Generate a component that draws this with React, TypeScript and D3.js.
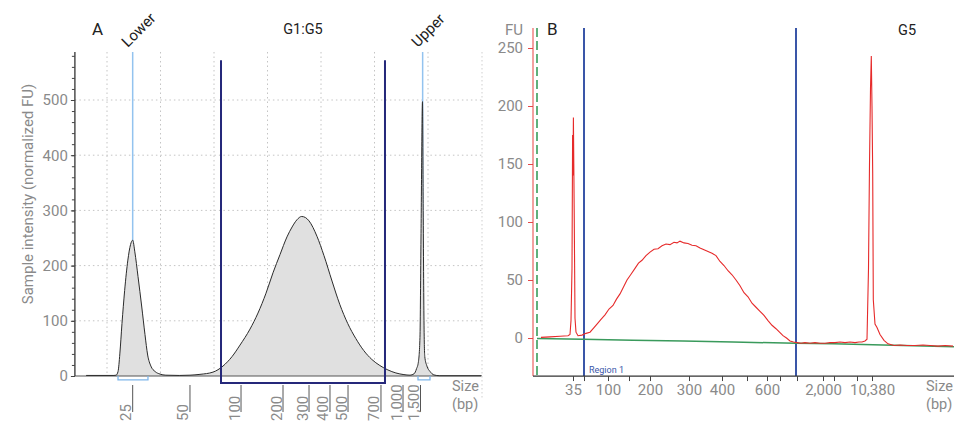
import * as d3 from "d3";
import { useEffect, useRef } from "react";

// ---- panel A (TapeStation, normalized FU) ----
// ladder sizes and their migration times
const ladderA = [25, 50, 100, 200, 300, 400, 500, 700, 1000, 1500];
const ladderATime = [14.8, 25.51, 35.05, 42.9, 47.76, 51.68, 55.05, 61.21, 65.33, 68.6];
const gridTimeA = [10, 20, 30, 40, 50, 60, 70];
const yTicksA = [0, 100, 200, 300, 400, 500];

const traceATime = [
  6.1, 11.3, 11.7, 12.06, 12.4, 12.8, 13.3, 13.9, 14.4, 14.8, 15.2, 15.8, 16.5, 17.1, 17.6, 18.2, 19.0, 19.9, 21.0,
  23.5, 25.51, 27.38, 29.81, 31.68, 33.36, 34.86, 36.73, 38.22, 39.72, 41.03, 42.34, 43.64, 44.6, 45.5, 46.39,
  47.1, 47.76, 49.25, 50.56, 52.06, 53.5, 55.0, 56.5, 58.0, 59.5, 61.0, 62.5, 64.0, 65.5, 66.64, 67.4, 67.85, 68.2,
  68.5, 68.69, 68.97, 69.1, 69.25, 69.4, 69.8, 70.4, 71.1, 72.2, 80
];
const traceAValue = [
  1, 1, 1.5, 8, 40, 95, 155, 210, 238, 246, 225, 180, 125, 75, 38, 18, 8, 3.5, 1.5,
  1, 1.5, 3, 7, 18, 35, 56, 85, 114, 150, 187, 220, 252, 270, 283, 289,
  287, 281, 253, 218, 172, 130, 95, 68, 46, 30, 19, 11, 5.5, 2.5, 1.5, 4, 13, 25,
  70, 250, 497, 300, 100, 35, 18, 8, 2, 0.5, 0.5
];

const markerALabels = ["Lower", "Upper"];
const markerATime = [14.8, 69.0];
const markerABracket = [[12.06, 17.66], [68.13, 70.37]];
const regionALabel = "G1:G5";
const regionATime = [31.31, 61.96];

// ---- panel B (Bioanalyzer, FU) ----
const ladderB = [35, 50, 100, 150, 200, 300, 400, 500, 600, 700, 1000, 2000, 3000, 7000, 10380];
const ladderBTime = [48.0, 50.2, 55.0, 59.2, 63.4, 71.2, 77.8, 82.8, 86.8, 89.4, 92.8, 98.0, 100.2, 104.8, 107.8];
const labeledB = [35, 100, 200, 300, 400, 600, 2000, 10380];
const yTicksB = [0, 50, 100, 150, 200, 250];
const regionBTime = [50.2, 92.6];
const startBTime = 40.8;

const traceBTime = [
  41.6, 43.4, 45.4, 47.0, 47.4, 47.6, 47.8, 47.92, 48.0, 48.08, 48.16, 48.24, 48.4, 48.6, 49.0, 49.8, 50.6,
  51.4, 52.2, 52.8, 53.6, 54.4, 55.2, 56.0, 56.7, 57.4, 58.1, 58.8, 59.6, 60.4, 61.1, 61.8, 62.6, 63.4,
  64.2, 65.0, 65.8, 66.6, 67.4, 68.2, 68.8, 69.4, 70.2, 71.0, 71.8, 72.6, 73.4, 74.2, 75.0, 75.8, 76.6,
  77.4, 78.2, 79.0, 79.8, 80.6, 81.4, 82.2, 83.0, 83.8, 84.6, 85.4, 86.2, 87.0, 87.8, 88.6, 89.3, 90.0,
  90.7, 91.4, 92.1, 92.8, 93.6, 94.4, 95.4, 96.4, 97.4, 98.4, 99.4, 100.4, 101.4, 102.4, 103.4, 104.4,
  105.2, 105.8, 106.4, 106.8, 107.1, 107.3, 107.5, 107.66, 107.8, 107.94, 108.06, 108.4, 108.8, 109.4,
  110.2, 111.0, 112.2, 113.4, 114.8, 116.4, 118.0, 119.4, 121.0, 122.4, 124.0
];
const traceBValue = [
  0.5, 1, 1.5, 2, 3, 15, 60, 175, 140, 190, 150, 110, 17, 5, 2, 2.5, 4,
  5, 9, 12, 16, 20, 25, 28, 33.5, 38, 44, 50, 55, 60, 64.5, 67, 71, 74,
  76.5, 77, 79.5, 81, 80.5, 82.5, 82, 83.5, 82, 81.5, 80, 79.5, 77.5, 76, 74.5, 73, 71,
  66, 62.5, 58, 54.5, 50, 45, 39, 35.5, 30, 26.5, 23, 19.5, 15, 11, 8, 5, 2,
  0, -2.5, -3.5, -4, -4.5, -4, -4.5, -4, -4.5, -4.5, -4, -4, -3.5, -4, -3.5, -4,
  -3.5, -3.5, -2.5, -1, 60, 150, 215, 243, 200, 142, 33, 12, 9, 3,
  -2, -5, -6.5, -6, -6.5, -6.5, -6, -6.5, -7, -6.5, -7
];

const baseBTime = [40.8, 50, 60, 70, 80, 92.6, 100, 110, 124.2];
const baseBValue = [-0.5, -1, -2, -2.5, -3.5, -4.5, -5, -6, -7.5];

const gray = "#8a8a8a";

function App() {
  const svgRef = useRef<SVGSVGElement>(null);

  useEffect(() => {
    document.body.style.margin = "0";
    const svg = d3.select(svgRef.current);
    svg.selectAll("*").remove();
    svg.style("font-family", "Roboto, sans-serif");

    // ========== PANEL A ==========
    const xA = d3.scaleLinear([4, 80], [74.9, 481.5]);
    const yA = d3.scaleLinear([0, 500], [376, 100]);
    const topA = yA(587);
    const gA = svg.append("g");

    // grid
    gA.selectAll("line.hgrid").data(yTicksA.filter(d => d > 0)).enter().append("line")
      .attr("x1", xA(4)).attr("x2", xA(80))
      .attr("y1", d => yA(d)).attr("y2", d => yA(d))
      .attr("stroke", "#c4c4c4").attr("stroke-dasharray", "1.5,3");
    gA.selectAll("line.vgrid").data(gridTimeA).enter().append("line")
      .attr("x1", d => xA(d)).attr("x2", d => xA(d))
      .attr("y1", topA).attr("y2", yA(0))
      .attr("stroke", "#c4c4c4").attr("stroke-dasharray", "1.5,3");

    // marker lines (behind trace)
    gA.selectAll("line.marker").data(markerATime).enter().append("line")
      .attr("x1", d => xA(d)).attr("x2", d => xA(d))
      .attr("y1", topA).attr("y2", yA(0))
      .attr("stroke", "#93c3ef").attr("stroke-width", 1.5);

    const ptsA = traceATime.map((t, i) => [t, traceAValue[i]] as [number, number]);
    const area = d3.area<[number, number]>()
      .x(d => xA(d[0])).y0(yA(0)).y1(d => yA(d[1]))
      .curve(d3.curveMonotoneX);
    gA.append("path").attr("d", area(ptsA)).attr("fill", "#e0e0e0");

    // zero line
    gA.append("line").attr("x1", xA(4)).attr("x2", xA(80))
      .attr("y1", yA(0)).attr("y2", yA(0)).attr("stroke", "#555").attr("stroke-width", 1.2);

    const line = d3.line<[number, number]>()
      .x(d => xA(d[0])).y(d => yA(d[1])).curve(d3.curveMonotoneX);
    gA.append("path").attr("d", line(ptsA)).attr("fill", "none")
      .attr("stroke", "#2b2b2b").attr("stroke-width", 1);

    // marker brackets
    gA.selectAll("path.bracket").data(markerABracket).enter().append("path")
      .attr("d", d => `M${xA(d[0])},${yA(0)}V${yA(-7)}H${xA(d[1])}V${yA(0)}`)
      .attr("fill", "none").attr("stroke", "#7fb6ea").attr("stroke-width", 1.3);

    // region bracket
    gA.append("path")
      .attr("d", `M${xA(regionATime[0])},${yA(572)}V${yA(-12.5)}H${xA(regionATime[1])}V${yA(572)}`)
      .attr("fill", "none").attr("stroke", "#25287a").attr("stroke-width", 2);

    // y axis
    gA.append("line").attr("x1", xA(4)).attr("x2", xA(4)).attr("y1", topA).attr("y2", yA(0))
      .attr("stroke", "#333").attr("stroke-width", 1.3);
    const minorA = gA.append("g").attr("transform", `translate(${xA(4)},0)`)
      .call(d3.axisLeft(yA).tickValues(d3.range(0, 581, 20)).tickSize(3).tickFormat(() => ""));
    minorA.select(".domain").remove();
    minorA.selectAll("line").attr("stroke", "#444");
    const axA = gA.append("g").attr("transform", `translate(${xA(4)},0)`)
      .call(d3.axisLeft(yA).tickValues(yTicksA).tickSize(4).tickPadding(3));
    axA.select(".domain").remove();
    axA.selectAll("line").attr("stroke", "#444");
    axA.selectAll("text").attr("fill", gray).style("font-size", "15px").style("font-family", "Roboto, sans-serif");

    gA.append("text").attr("transform", `translate(33,194) rotate(-90)`)
      .attr("text-anchor", "middle").attr("fill", gray).style("font-size", "15px")
      .text("Sample intensity (normalized FU)");

    // x size ticks
    const xt = gA.selectAll("g.xt").data(ladderA).enter().append("g");
    xt.append("line")
      .attr("x1", (d, i) => xA(ladderATime[i])).attr("x2", (d, i) => xA(ladderATime[i]))
      .attr("y1", 385).attr("y2", 412).attr("stroke", "#555");
    xt.append("text")
      .attr("transform", (d, i) => `translate(${xA(ladderATime[i]) - 1.5},421) rotate(-90)`)
      .attr("fill", gray).style("font-size", "15px")
      .text(d => d3.format(",")(d));

    gA.append("text").attr("x", 452).attr("y", 391).attr("fill", gray).style("font-size", "14.5px").text("Size");
    gA.append("text").attr("x", 452).attr("y", 409).attr("fill", gray).style("font-size", "14.5px").text("(bp)");

    // titles
    gA.append("text").attr("x", 92).attr("y", 35).attr("fill", "#222").style("font-size", "17px").text("A");
    gA.append("text").attr("x", xA((regionATime[0] + regionATime[1]) / 2)).attr("y", 34)
      .attr("text-anchor", "middle").attr("fill", "#222").style("font-size", "14.5px").text(regionALabel);
    gA.selectAll("text.mk").data(markerALabels).enter().append("text")
      .attr("transform", (d, i) => `translate(${xA(markerATime[i]) - 5},48) rotate(-45)`)
      .attr("fill", "#222").style("font-size", "15px").text(d => d);

    // ========== PANEL B ==========
    const xB = d3.scaleLinear([40, 124.2], [533, 954]);
    const yB = d3.scaleLinear([0, 250], [338, 48]);
    const topB = yB(267.2);
    const botB = yB(-32.8);
    const gB = svg.append("g");

    gB.append("line").attr("x1", 482).attr("x2", 482).attr("y1", 52).attr("y2", 400)
      .attr("stroke", "#cfcfcf").attr("stroke-dasharray", "1.5,2.5");

    gB.append("line").attr("x1", xB(40)).attr("x2", xB(40)).attr("y1", topB).attr("y2", botB)
      .attr("stroke", "#f4a0a0").attr("stroke-width", 2);
    gB.append("line").attr("x1", xB(startBTime)).attr("x2", xB(startBTime)).attr("y1", topB).attr("y2", botB)
      .attr("stroke", "#1f8f45").attr("stroke-width", 1.4).attr("stroke-dasharray", "9,4");

    gB.selectAll("line.reg").data(regionBTime).enter().append("line")
      .attr("x1", d => xB(d)).attr("x2", d => xB(d)).attr("y1", topB).attr("y2", botB)
      .attr("stroke", "#3a56a8").attr("stroke-width", 2);

    const lineB = d3.line<[number, number]>().x(d => xB(d[0])).y(d => yB(d[1]));
    gB.append("path").attr("d", lineB(baseBTime.map((t, i) => [t, baseBValue[i]] as [number, number])))
      .attr("fill", "none").attr("stroke", "#3a9a5c").attr("stroke-width", 1.5);
    gB.append("path").attr("d", lineB(traceBTime.map((t, i) => [t, traceBValue[i]] as [number, number])))
      .attr("fill", "none").attr("stroke", "#e62a2a").attr("stroke-width", 1.1);

    // y axis B
    const axB = gB.append("g").attr("transform", `translate(${xB(40)},0)`)
      .call(d3.axisLeft(yB).tickValues(yTicksB).tickSize(5).tickPadding(5));
    axB.select(".domain").remove();
    axB.selectAll("line").attr("stroke", "#e34848");
    axB.selectAll("text").attr("fill", gray).style("font-size", "15px").style("font-family", "Roboto, sans-serif");

    // x axis B
    const axBx = gB.append("g").attr("transform", `translate(0,${botB})`)
      .call(d3.axisBottom(xB).tickValues(ladderBTime).tickSize(5).tickPadding(3)
        .tickFormat((d, i) => labeledB.includes(ladderB[i]) ? d3.format(",")(ladderB[i]) : ""));
    axBx.select(".domain").attr("d", `M${xB(40)},0H${xB(124.2)}`).attr("stroke", "#333").attr("stroke-width", 1.2);
    axBx.selectAll("line").attr("stroke", "#444");
    axBx.selectAll("text").attr("fill", gray).style("font-size", "15px").style("font-family", "Roboto, sans-serif");

    gB.append("text").attr("x", xB(regionBTime[0]) + 5).attr("y", botB - 3)
      .attr("fill", "#3a56a8").style("font-size", "9px").text("Region 1");

    gB.append("text").attr("x", 926).attr("y", 391).attr("fill", gray).style("font-size", "14.5px").text("Size");
    gB.append("text").attr("x", 926).attr("y", 409).attr("fill", gray).style("font-size", "14.5px").text("(bp)");

    gB.append("text").attr("x", 523).attr("y", 35).attr("text-anchor", "end").attr("fill", gray)
      .style("font-size", "15px").text("FU");
    gB.append("text").attr("x", 547).attr("y", 35).attr("fill", "#222").style("font-size", "17px").text("B");
    gB.append("text").attr("x", 898).attr("y", 35).attr("fill", "#222").style("font-size", "14.5px").text("G5");
  }, []);

  return <svg ref={svgRef} width={954} height={421} style={{ display: "block" }} />;
}

export default App;
